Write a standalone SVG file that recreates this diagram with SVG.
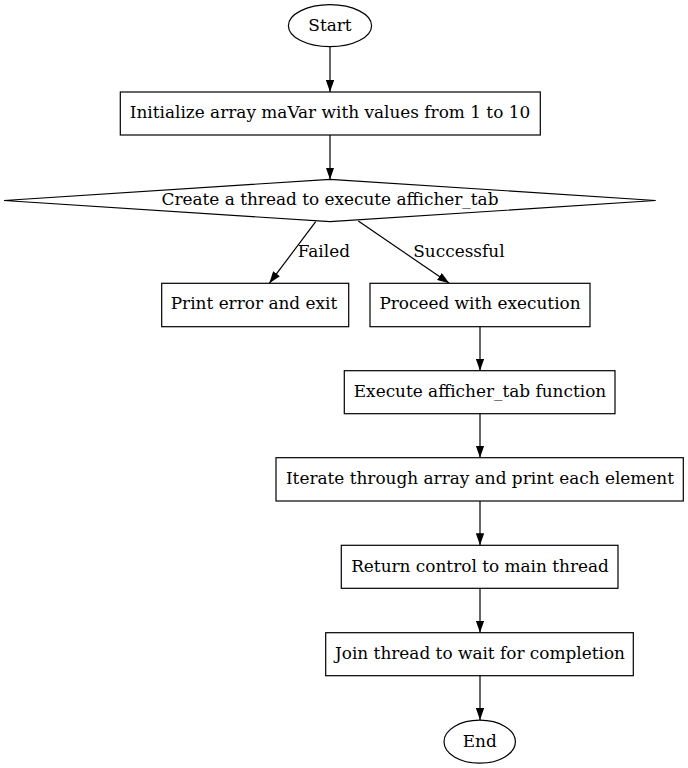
<svg xmlns="http://www.w3.org/2000/svg" width="688" height="768" viewBox="0 0 688 768">
<style>
.n{fill:#fff;stroke:#000;stroke-width:1.2}
.t{font-family:"DejaVu Serif",serif;font-size:16.9px;fill:#000;text-anchor:middle}
.l{font-family:"DejaVu Serif",serif;font-size:16.9px;fill:#000;text-anchor:start}
.e{fill:none;stroke:#000;stroke-width:1.2}
</style>
<defs>
<marker id="ah" viewBox="0 0 12 8.4" refX="12" refY="4.2" markerWidth="12" markerHeight="8.4" markerUnits="userSpaceOnUse" orient="auto">
<path d="M0,0 L12,4.2 L0,8.4 z" fill="#000"/>
</marker>
</defs>
<rect width="688" height="768" fill="#fff"/>
<g id="connectors">
<line class="e" x1="330" y1="47" x2="330" y2="92" marker-end="url(#ah)"/>
<line class="e" x1="330" y1="135" x2="330" y2="179.5" marker-end="url(#ah)"/>
<line class="e" x1="315.7" y1="221.7" x2="269.3" y2="283.3" marker-end="url(#ah)"/>
<text class="l" x="297.7" y="256.5">Failed</text>
<line class="e" x1="358.3" y1="221" x2="449.3" y2="283.3" marker-end="url(#ah)"/>
<text class="l" x="413.3" y="256.5">Successful</text>
<line class="e" x1="480" y1="326.7" x2="480" y2="370.7" marker-end="url(#ah)"/>
<line class="e" x1="480" y1="413.7" x2="480" y2="457.7" marker-end="url(#ah)"/>
<line class="e" x1="480" y1="501" x2="480" y2="545.3" marker-end="url(#ah)"/>
<line class="e" x1="480" y1="588.3" x2="480" y2="632.7" marker-end="url(#ah)"/>
<line class="e" x1="480" y1="675.7" x2="480" y2="720" marker-end="url(#ah)"/>
</g>
<g id="start">
<ellipse class="n" cx="330" cy="25.7" rx="41.6" ry="21"/>
<text class="t" x="330" y="30.7">Start</text>
</g>
<g id="init">
<rect class="n" x="120.3" y="92" width="420" height="43"/>
<text class="t" x="330" y="118.3">Initialize array maVar with values from 1 to 10</text>
</g>
<g id="create">
<polygon class="n" points="330,179.3 655.7,200.5 330,221.7 4,200.5"/>
<text class="t" x="330" y="205.3">Create a thread to execute afficher_tab</text>
</g>
<g id="error">
<rect class="n" x="161.7" y="283.3" width="187" height="43.4"/>
<text class="t" x="254" y="309.4">Print error and exit</text>
</g>
<g id="proceed">
<rect class="n" x="370" y="283.3" width="220" height="43.4"/>
<text class="t" x="480" y="309.4">Proceed with execution</text>
</g>
<g id="execute">
<rect class="n" x="344.3" y="370.7" width="270.7" height="43"/>
<text class="t" x="480" y="396.8">Execute afficher_tab function</text>
</g>
<g id="iterate">
<rect class="n" x="276" y="457.7" width="407.3" height="43.3"/>
<text class="t" x="480" y="484">Iterate through array and print each element</text>
</g>
<g id="return">
<rect class="n" x="341.3" y="545.3" width="276.7" height="43"/>
<text class="t" x="480" y="571.5">Return control to main thread</text>
</g>
<g id="join">
<rect class="n" x="325.7" y="632.7" width="307.6" height="43"/>
<text class="t" x="480" y="658.8">Join thread to wait for completion</text>
</g>
<g id="end">
<ellipse class="n" cx="479.7" cy="741.7" rx="35.7" ry="21.5"/>
<text class="t" x="479.7" y="746.6">End</text>
</g>
</svg>
